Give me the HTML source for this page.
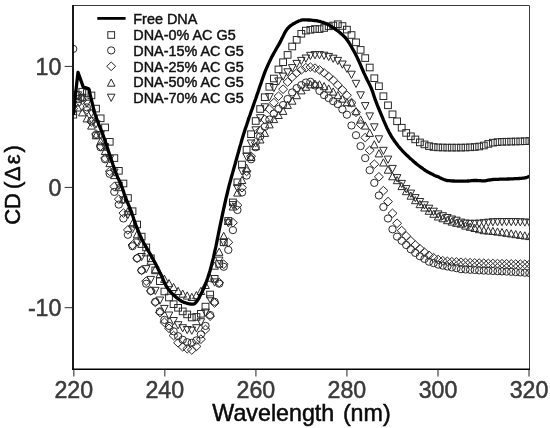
<!DOCTYPE html>
<html><head><meta charset="utf-8"><title>CD spectra</title>
<style>
html,body{margin:0;padding:0;background:#fff;}
body{width:550px;height:428px;overflow:hidden;}
svg{display:block;will-change:transform;}
text{font-family:"Liberation Sans",sans-serif;}
.m{fill:none;stroke:#2a2a2a;stroke-width:1.0;}
.tk{fill:#3a3a3a;font-size:24.8px;stroke:#3a3a3a;stroke-width:0.55px;}
.ax{fill:#0a0a0a;font-size:23.25px;stroke:#0a0a0a;stroke-width:0.5px;}
.lg{fill:#111;font-size:14.4px;stroke:#111;stroke-width:0.45px;}
</style></head><body>
<svg width="550" height="428" viewBox="0 0 550 428">
<rect x="0" y="0" width="550" height="428" fill="#fff"/>
<defs><clipPath id="c"><rect x="73.2" y="5.5" width="456.8" height="363.7"/></clipPath></defs>
<g clip-path="url(#c)">
<g class="m"><rect x="69.8" y="111.4" width="6.8" height="6.6"/><rect x="74.4" y="95.7" width="6.8" height="6.6"/><rect x="78.9" y="88.4" width="6.8" height="6.6"/><rect x="83.5" y="89.7" width="6.8" height="6.6"/><rect x="88" y="92.1" width="6.8" height="6.6"/><rect x="92.6" y="105.3" width="6.8" height="6.6"/><rect x="97.2" y="115" width="6.8" height="6.6"/><rect x="101.7" y="124.1" width="6.8" height="6.6"/><rect x="106.3" y="138.5" width="6.8" height="6.6"/><rect x="110.9" y="154.8" width="6.8" height="6.6"/><rect x="115.4" y="167.5" width="6.8" height="6.6"/><rect x="120" y="180.2" width="6.8" height="6.6"/><rect x="124.5" y="194.7" width="6.8" height="6.6"/><rect x="129.1" y="207.9" width="6.8" height="6.6"/><rect x="133.7" y="221.2" width="6.8" height="6.6"/><rect x="138.2" y="233.3" width="6.8" height="6.6"/><rect x="142.8" y="244.1" width="6.8" height="6.6"/><rect x="147.4" y="255" width="6.8" height="6.6"/><rect x="151.9" y="267.1" width="6.8" height="6.6"/><rect x="156.5" y="277.9" width="6.8" height="6.6"/><rect x="161" y="288.2" width="6.8" height="6.6"/><rect x="165.6" y="294.2" width="6.8" height="6.6"/><rect x="170.2" y="300.9" width="6.8" height="6.6"/><rect x="174.7" y="304.5" width="6.8" height="6.6"/><rect x="179.3" y="308.1" width="6.8" height="6.6"/><rect x="183.8" y="311.1" width="6.8" height="6.6"/><rect x="188.4" y="314.2" width="6.8" height="6.6"/><rect x="193" y="313.6" width="6.8" height="6.6"/><rect x="197.5" y="310.5" width="6.8" height="6.6"/><rect x="202.1" y="303.3" width="6.8" height="6.6"/><rect x="206.7" y="291.2" width="6.8" height="6.6"/><rect x="211.2" y="275.5" width="6.8" height="6.6"/><rect x="215.8" y="260.6" width="6.8" height="6.6"/><rect x="220.3" y="239" width="6.8" height="6.6"/><rect x="224.9" y="217.6" width="6.8" height="6.6"/><rect x="229.5" y="199.1" width="6.8" height="6.6"/><rect x="234" y="179" width="6.8" height="6.6"/><rect x="238.6" y="161.2" width="6.8" height="6.6"/><rect x="243.2" y="146.4" width="6.8" height="6.6"/><rect x="247.7" y="130.9" width="6.8" height="6.6"/><rect x="252.3" y="117.7" width="6.8" height="6.6"/><rect x="256.8" y="105.7" width="6.8" height="6.6"/><rect x="261.4" y="93.9" width="6.8" height="6.6"/><rect x="266" y="83.5" width="6.8" height="6.6"/><rect x="270.5" y="75.2" width="6.8" height="6.6"/><rect x="275.1" y="66.1" width="6.8" height="6.6"/><rect x="279.7" y="58.9" width="6.8" height="6.6"/><rect x="284.2" y="51.6" width="6.8" height="6.6"/><rect x="288.8" y="43.2" width="6.8" height="6.6"/><rect x="293.3" y="36.5" width="6.8" height="6.6"/><rect x="297.9" y="30.5" width="6.8" height="6.6"/><rect x="302.5" y="27.3" width="6.8" height="6.6"/><rect x="307" y="26.5" width="6.8" height="6.6"/><rect x="311.6" y="25.7" width="6.8" height="6.6"/><rect x="316.1" y="25.8" width="6.8" height="6.6"/><rect x="320.7" y="24.7" width="6.8" height="6.6"/><rect x="325.3" y="23" width="6.8" height="6.6"/><rect x="329.8" y="22.2" width="6.8" height="6.6"/><rect x="334.4" y="20.9" width="6.8" height="6.6"/><rect x="339" y="22.7" width="6.8" height="6.6"/><rect x="343.5" y="26.3" width="6.8" height="6.6"/><rect x="348.1" y="31.7" width="6.8" height="6.6"/><rect x="352.6" y="39" width="6.8" height="6.6"/><rect x="357.2" y="46.6" width="6.8" height="6.6"/><rect x="361.8" y="54.8" width="6.8" height="6.6"/><rect x="366.3" y="64.2" width="6.8" height="6.6"/><rect x="370.9" y="74.9" width="6.8" height="6.6"/><rect x="375.5" y="82.9" width="6.8" height="6.6"/><rect x="380" y="92.9" width="6.8" height="6.6"/><rect x="384.6" y="102" width="6.8" height="6.6"/><rect x="389.1" y="111" width="6.8" height="6.6"/><rect x="393.7" y="118" width="6.8" height="6.6"/><rect x="398.3" y="124.4" width="6.8" height="6.6"/><rect x="402.8" y="129.6" width="6.8" height="6.6"/><rect x="407.4" y="133" width="6.8" height="6.6"/><rect x="411.9" y="136.1" width="6.8" height="6.6"/><rect x="416.5" y="139.1" width="6.8" height="6.6"/><rect x="421.1" y="141.1" width="6.8" height="6.6"/><rect x="425.6" y="142.8" width="6.8" height="6.6"/><rect x="430.2" y="143.7" width="6.8" height="6.6"/><rect x="434.8" y="144.1" width="6.8" height="6.6"/><rect x="439.3" y="144.2" width="6.8" height="6.6"/><rect x="443.9" y="144.3" width="6.8" height="6.6"/><rect x="448.4" y="144.3" width="6.8" height="6.6"/><rect x="453" y="144.3" width="6.8" height="6.6"/><rect x="457.6" y="144.3" width="6.8" height="6.6"/><rect x="462.1" y="144.2" width="6.8" height="6.6"/><rect x="466.7" y="144" width="6.8" height="6.6"/><rect x="471.3" y="143.7" width="6.8" height="6.6"/><rect x="475.8" y="143.2" width="6.8" height="6.6"/><rect x="480.4" y="142.2" width="6.8" height="6.6"/><rect x="484.9" y="140.6" width="6.8" height="6.6"/><rect x="489.5" y="139.4" width="6.8" height="6.6"/><rect x="494.1" y="138.8" width="6.8" height="6.6"/><rect x="498.6" y="138.5" width="6.8" height="6.6"/><rect x="503.2" y="138.4" width="6.8" height="6.6"/><rect x="507.8" y="138.3" width="6.8" height="6.6"/><rect x="512.3" y="138.2" width="6.8" height="6.6"/><rect x="516.9" y="138.1" width="6.8" height="6.6"/><rect x="521.4" y="137.9" width="6.8" height="6.6"/><rect x="526" y="137.7" width="6.8" height="6.6"/></g>
<g class="m"><ellipse cx="73.2" cy="48.9" rx="3.7" ry="3.6"/><ellipse cx="77.8" cy="102.6" rx="3.7" ry="3.6"/><ellipse cx="82.3" cy="97.8" rx="3.7" ry="3.6"/><ellipse cx="86.9" cy="107.4" rx="3.7" ry="3.6"/><ellipse cx="91.4" cy="120.7" rx="3.7" ry="3.6"/><ellipse cx="96" cy="135.2" rx="3.7" ry="3.6"/><ellipse cx="100.6" cy="147.3" rx="3.7" ry="3.6"/><ellipse cx="105.1" cy="159.3" rx="3.7" ry="3.6"/><ellipse cx="109.7" cy="173.8" rx="3.7" ry="3.6"/><ellipse cx="114.3" cy="191.9" rx="3.7" ry="3.6"/><ellipse cx="118.8" cy="204.6" rx="3.7" ry="3.6"/><ellipse cx="123.4" cy="218.5" rx="3.7" ry="3.6"/><ellipse cx="127.9" cy="234.8" rx="3.7" ry="3.6"/><ellipse cx="132.5" cy="246.2" rx="3.7" ry="3.6"/><ellipse cx="137.1" cy="258.3" rx="3.7" ry="3.6"/><ellipse cx="141.6" cy="270.4" rx="3.7" ry="3.6"/><ellipse cx="146.2" cy="283.7" rx="3.7" ry="3.6"/><ellipse cx="150.8" cy="290.9" rx="3.7" ry="3.6"/><ellipse cx="155.3" cy="301.8" rx="3.7" ry="3.6"/><ellipse cx="159.9" cy="311.4" rx="3.7" ry="3.6"/><ellipse cx="164.4" cy="319.9" rx="3.7" ry="3.6"/><ellipse cx="169" cy="325.9" rx="3.7" ry="3.6"/><ellipse cx="173.6" cy="331.3" rx="3.7" ry="3.6"/><ellipse cx="178.1" cy="336.2" rx="3.7" ry="3.6"/><ellipse cx="182.7" cy="339.8" rx="3.7" ry="3.6"/><ellipse cx="187.2" cy="342.2" rx="3.7" ry="3.6"/><ellipse cx="191.8" cy="342.8" rx="3.7" ry="3.6"/><ellipse cx="196.4" cy="340.4" rx="3.7" ry="3.6"/><ellipse cx="200.9" cy="334.4" rx="3.7" ry="3.6"/><ellipse cx="205.5" cy="325.9" rx="3.7" ry="3.6"/><ellipse cx="210.1" cy="315" rx="3.7" ry="3.6"/><ellipse cx="214.6" cy="301.8" rx="3.7" ry="3.6"/><ellipse cx="219.2" cy="283.7" rx="3.7" ry="3.6"/><ellipse cx="223.7" cy="266.8" rx="3.7" ry="3.6"/><ellipse cx="228.3" cy="249.9" rx="3.7" ry="3.6"/><ellipse cx="232.9" cy="230.1" rx="3.7" ry="3.6"/><ellipse cx="237.4" cy="210" rx="3.7" ry="3.6"/><ellipse cx="242" cy="192.5" rx="3.7" ry="3.6"/><ellipse cx="246.6" cy="175.6" rx="3.7" ry="3.6"/><ellipse cx="251.1" cy="159.3" rx="3.7" ry="3.6"/><ellipse cx="255.7" cy="147.3" rx="3.7" ry="3.6"/><ellipse cx="260.2" cy="136.4" rx="3.7" ry="3.6"/><ellipse cx="264.8" cy="126.8" rx="3.7" ry="3.6"/><ellipse cx="269.4" cy="119.5" rx="3.7" ry="3.6"/><ellipse cx="273.9" cy="113.6" rx="3.7" ry="3.6"/><ellipse cx="278.5" cy="108.9" rx="3.7" ry="3.6"/><ellipse cx="283.1" cy="105" rx="3.7" ry="3.6"/><ellipse cx="287.6" cy="99" rx="3.7" ry="3.6"/><ellipse cx="292.2" cy="92.4" rx="3.7" ry="3.6"/><ellipse cx="296.7" cy="88.1" rx="3.7" ry="3.6"/><ellipse cx="301.3" cy="85.1" rx="3.7" ry="3.6"/><ellipse cx="305.9" cy="82.5" rx="3.7" ry="3.6"/><ellipse cx="310.4" cy="81.8" rx="3.7" ry="3.6"/><ellipse cx="315" cy="85.5" rx="3.7" ry="3.6"/><ellipse cx="319.5" cy="90.9" rx="3.7" ry="3.6"/><ellipse cx="324.1" cy="95.1" rx="3.7" ry="3.6"/><ellipse cx="328.7" cy="98.1" rx="3.7" ry="3.6"/><ellipse cx="333.2" cy="101.2" rx="3.7" ry="3.6"/><ellipse cx="337.8" cy="104.1" rx="3.7" ry="3.6"/><ellipse cx="342.4" cy="109.4" rx="3.7" ry="3.6"/><ellipse cx="346.9" cy="114.7" rx="3.7" ry="3.6"/><ellipse cx="351.5" cy="125.5" rx="3.7" ry="3.6"/><ellipse cx="356" cy="135.2" rx="3.7" ry="3.6"/><ellipse cx="360.6" cy="146.1" rx="3.7" ry="3.6"/><ellipse cx="365.2" cy="158.1" rx="3.7" ry="3.6"/><ellipse cx="369.7" cy="170.2" rx="3.7" ry="3.6"/><ellipse cx="374.3" cy="182.9" rx="3.7" ry="3.6"/><ellipse cx="378.9" cy="195.5" rx="3.7" ry="3.6"/><ellipse cx="383.4" cy="207" rx="3.7" ry="3.6"/><ellipse cx="388" cy="218.5" rx="3.7" ry="3.6"/><ellipse cx="392.5" cy="229.3" rx="3.7" ry="3.6"/><ellipse cx="397.1" cy="236.6" rx="3.7" ry="3.6"/><ellipse cx="401.7" cy="240.8" rx="3.7" ry="3.6"/><ellipse cx="406.2" cy="245" rx="3.7" ry="3.6"/><ellipse cx="410.8" cy="249.3" rx="3.7" ry="3.6"/><ellipse cx="415.3" cy="252.9" rx="3.7" ry="3.6"/><ellipse cx="419.9" cy="256.3" rx="3.7" ry="3.6"/><ellipse cx="424.5" cy="258.9" rx="3.7" ry="3.6"/><ellipse cx="429" cy="261.7" rx="3.7" ry="3.6"/><ellipse cx="433.6" cy="263.1" rx="3.7" ry="3.6"/><ellipse cx="438.2" cy="264.6" rx="3.7" ry="3.6"/><ellipse cx="442.7" cy="265.6" rx="3.7" ry="3.6"/><ellipse cx="447.3" cy="266.5" rx="3.7" ry="3.6"/><ellipse cx="451.8" cy="267.4" rx="3.7" ry="3.6"/><ellipse cx="456.4" cy="268.2" rx="3.7" ry="3.6"/><ellipse cx="461" cy="269.2" rx="3.7" ry="3.6"/><ellipse cx="465.5" cy="269.5" rx="3.7" ry="3.6"/><ellipse cx="470.1" cy="269.8" rx="3.7" ry="3.6"/><ellipse cx="474.7" cy="270" rx="3.7" ry="3.6"/><ellipse cx="479.2" cy="270.4" rx="3.7" ry="3.6"/><ellipse cx="483.8" cy="270.6" rx="3.7" ry="3.6"/><ellipse cx="488.3" cy="270.8" rx="3.7" ry="3.6"/><ellipse cx="492.9" cy="271" rx="3.7" ry="3.6"/><ellipse cx="497.5" cy="271.2" rx="3.7" ry="3.6"/><ellipse cx="502" cy="271.4" rx="3.7" ry="3.6"/><ellipse cx="506.6" cy="271.6" rx="3.7" ry="3.6"/><ellipse cx="511.2" cy="271.8" rx="3.7" ry="3.6"/><ellipse cx="515.7" cy="272.1" rx="3.7" ry="3.6"/><ellipse cx="520.3" cy="272.4" rx="3.7" ry="3.6"/><ellipse cx="524.8" cy="272.7" rx="3.7" ry="3.6"/><ellipse cx="529.4" cy="273" rx="3.7" ry="3.6"/></g>
<g class="m"><path d="M68.7 108.6L73.2 104.3L77.7 108.6L73.2 112.9Z"/><path d="M73.3 95.4L77.8 91.1L82.3 95.4L77.8 99.7Z"/><path d="M77.8 100.2L82.3 95.9L86.8 100.2L82.3 104.5Z"/><path d="M82.4 109.9L86.9 105.6L91.4 109.9L86.9 114.2Z"/><path d="M86.9 121.9L91.4 117.6L95.9 121.9L91.4 126.2Z"/><path d="M91.5 134L96 129.7L100.5 134L96 138.3Z"/><path d="M96.1 146.1L100.6 141.8L105.1 146.1L100.6 150.4Z"/><path d="M100.6 158.1L105.1 153.8L109.6 158.1L105.1 162.4Z"/><path d="M105.2 171.4L109.7 167.1L114.2 171.4L109.7 175.7Z"/><path d="M109.8 186.5L114.3 182.2L118.8 186.5L114.3 190.8Z"/><path d="M114.3 199.2L118.8 194.9L123.3 199.2L118.8 203.5Z"/><path d="M118.9 213.1L123.4 208.8L127.9 213.1L123.4 217.4Z"/><path d="M123.4 229.9L127.9 225.6L132.4 229.9L127.9 234.2Z"/><path d="M128 245L132.5 240.7L137 245L132.5 249.3Z"/><path d="M132.6 258.3L137.1 254L141.6 258.3L137.1 262.6Z"/><path d="M137.1 270.4L141.6 266.1L146.1 270.4L141.6 274.7Z"/><path d="M141.7 281.2L146.2 276.9L150.7 281.2L146.2 285.5Z"/><path d="M146.3 290.9L150.8 286.6L155.3 290.9L150.8 295.2Z"/><path d="M150.8 302.4L155.3 298.1L159.8 302.4L155.3 306.7Z"/><path d="M155.4 312.6L159.9 308.3L164.4 312.6L159.9 316.9Z"/><path d="M159.9 322.3L164.4 318L168.9 322.3L164.4 326.6Z"/><path d="M164.5 328.3L169 324L173.5 328.3L169 332.6Z"/><path d="M169.1 335.6L173.6 331.3L178.1 335.6L173.6 339.9Z"/><path d="M173.6 342.8L178.1 338.5L182.6 342.8L178.1 347.1Z"/><path d="M178.2 346.8L182.7 342.5L187.2 346.8L182.7 351.1Z"/><path d="M182.8 348.7L187.2 344.4L191.8 348.7L187.2 353Z"/><path d="M187.3 350L191.8 345.7L196.3 350L191.8 354.3Z"/><path d="M191.9 346.4L196.4 342.1L200.9 346.4L196.4 350.7Z"/><path d="M196.4 339.2L200.9 334.9L205.4 339.2L200.9 343.5Z"/><path d="M201 329.5L205.5 325.2L210 329.5L205.5 333.8Z"/><path d="M205.6 316.2L210.1 311.9L214.6 316.2L210.1 320.5Z"/><path d="M210.1 303L214.6 298.7L219.1 303L214.6 307.3Z"/><path d="M214.7 282.5L219.2 278.2L223.7 282.5L219.2 286.8Z"/><path d="M219.2 264.3L223.7 260L228.2 264.3L223.7 268.6Z"/><path d="M223.8 242.3L228.3 238L232.8 242.3L228.3 246.6Z"/><path d="M228.4 222.7L232.9 218.4L237.4 222.7L232.9 227Z"/><path d="M232.9 205.2L237.4 200.9L241.9 205.2L237.4 209.5Z"/><path d="M237.5 187.7L242 183.4L246.5 187.7L242 192Z"/><path d="M242.1 171.4L246.6 167.1L251.1 171.4L246.6 175.7Z"/><path d="M246.6 156.3L251.1 152L255.6 156.3L251.1 160.6Z"/><path d="M251.2 142.4L255.7 138.1L260.2 142.4L255.7 146.7Z"/><path d="M255.7 130.4L260.2 126.1L264.7 130.4L260.2 134.7Z"/><path d="M260.3 119.5L264.8 115.2L269.3 119.5L264.8 123.8Z"/><path d="M264.9 109.2L269.4 104.9L273.9 109.2L269.4 113.5Z"/><path d="M269.4 102.7L273.9 98.4L278.4 102.7L273.9 107Z"/><path d="M274 96.2L278.5 91.9L283 96.2L278.5 100.5Z"/><path d="M278.6 89.2L283.1 84.9L287.6 89.2L283.1 93.5Z"/><path d="M283.1 82L287.6 77.7L292.1 82L287.6 86.3Z"/><path d="M287.7 77.1L292.2 72.8L296.7 77.1L292.2 81.4Z"/><path d="M292.2 72.9L296.7 68.6L301.2 72.9L296.7 77.2Z"/><path d="M296.8 69.9L301.3 65.6L305.8 69.9L301.3 74.2Z"/><path d="M301.4 67.7L305.9 63.4L310.4 67.7L305.9 72Z"/><path d="M305.9 67.1L310.4 62.8L314.9 67.1L310.4 71.4Z"/><path d="M310.5 68.1L315 63.8L319.5 68.1L315 72.4Z"/><path d="M315 69.9L319.5 65.6L324 69.9L319.5 74.2Z"/><path d="M319.6 72.9L324.1 68.6L328.6 72.9L324.1 77.2Z"/><path d="M324.2 76.5L328.7 72.2L333.2 76.5L328.7 80.8Z"/><path d="M328.7 80.2L333.2 75.9L337.7 80.2L333.2 84.5Z"/><path d="M333.3 85L337.8 80.7L342.3 85L337.8 89.3Z"/><path d="M337.9 89.9L342.4 85.6L346.9 89.9L342.4 94.2Z"/><path d="M342.4 95.3L346.9 91L351.4 95.3L346.9 99.6Z"/><path d="M347 102.6L351.5 98.3L356 102.6L351.5 106.9Z"/><path d="M351.5 112.3L356 108L360.5 112.3L356 116.6Z"/><path d="M356.1 124.3L360.6 120L365.1 124.3L360.6 128.6Z"/><path d="M360.7 137.6L365.2 133.3L369.7 137.6L365.2 141.9Z"/><path d="M365.2 150.3L369.7 146L374.2 150.3L369.7 154.6Z"/><path d="M369.8 164.2L374.3 159.9L378.8 164.2L374.3 168.5Z"/><path d="M374.4 176.8L378.9 172.5L383.4 176.8L378.9 181.1Z"/><path d="M378.9 190.7L383.4 186.4L387.9 190.7L383.4 195Z"/><path d="M383.5 201.6L388 197.3L392.5 201.6L388 205.9Z"/><path d="M388 213.3L392.5 209L397 213.3L392.5 217.6Z"/><path d="M392.6 223.3L397.1 219L401.6 223.3L397.1 227.6Z"/><path d="M397.2 230.6L401.7 226.3L406.2 230.6L401.7 234.9Z"/><path d="M401.7 236L406.2 231.7L410.7 236L406.2 240.3Z"/><path d="M406.3 240.8L410.8 236.5L415.3 240.8L410.8 245.1Z"/><path d="M410.8 245L415.3 240.7L419.8 245L415.3 249.3Z"/><path d="M415.4 248.7L419.9 244.4L424.4 248.7L419.9 253Z"/><path d="M420 252.3L424.5 248L429 252.3L424.5 256.6Z"/><path d="M424.5 255.3L429 251L433.5 255.3L429 259.6Z"/><path d="M429.1 257.7L433.6 253.4L438.1 257.7L433.6 262Z"/><path d="M433.7 259.5L438.2 255.2L442.7 259.5L438.2 263.8Z"/><path d="M438.2 260.7L442.7 256.4L447.2 260.7L442.7 265Z"/><path d="M442.8 261.3L447.3 257L451.8 261.3L447.3 265.6Z"/><path d="M447.3 261.7L451.8 257.4L456.3 261.7L451.8 266Z"/><path d="M451.9 261.9L456.4 257.6L460.9 261.9L456.4 266.2Z"/><path d="M456.5 262.2L461 257.9L465.5 262.2L461 266.5Z"/><path d="M461 262.5L465.5 258.2L470 262.5L465.5 266.8Z"/><path d="M465.6 262.7L470.1 258.4L474.6 262.7L470.1 267Z"/><path d="M470.2 262.9L474.7 258.6L479.2 262.9L474.7 267.2Z"/><path d="M474.7 263.1L479.2 258.8L483.7 263.1L479.2 267.4Z"/><path d="M479.3 263.2L483.8 258.9L488.3 263.2L483.8 267.5Z"/><path d="M483.8 263.4L488.3 259.1L492.8 263.4L488.3 267.7Z"/><path d="M488.4 263.5L492.9 259.2L497.4 263.5L492.9 267.8Z"/><path d="M493 263.6L497.5 259.3L502 263.6L497.5 267.9Z"/><path d="M497.5 263.7L502 259.4L506.5 263.7L502 268Z"/><path d="M502.1 263.8L506.6 259.5L511.1 263.8L506.6 268.1Z"/><path d="M506.7 263.9L511.2 259.6L515.7 263.9L511.2 268.2Z"/><path d="M511.2 264L515.7 259.7L520.2 264L515.7 268.3Z"/><path d="M515.8 264.1L520.3 259.8L524.8 264.1L520.3 268.4Z"/><path d="M520.3 264.2L524.8 259.9L529.3 264.2L524.8 268.5Z"/><path d="M524.9 264.3L529.4 260L533.9 264.3L529.4 268.6Z"/></g>
<g class="m"><path d="M69.4 114.7L77 114.7L73.2 107.5Z"/><path d="M74 111L81.6 111L77.8 103.8Z"/><path d="M78.5 115.9L86.1 115.9L82.3 108.7Z"/><path d="M83.1 121.9L90.7 121.9L86.9 114.7Z"/><path d="M87.6 129.1L95.2 129.1L91.4 121.9Z"/><path d="M92.2 138.8L99.8 138.8L96 131.6Z"/><path d="M96.8 144.8L104.4 144.8L100.6 137.6Z"/><path d="M101.3 154.5L108.9 154.5L105.1 147.3Z"/><path d="M105.9 166.6L113.5 166.6L109.7 159.4Z"/><path d="M110.5 178.6L118.1 178.6L114.3 171.4Z"/><path d="M115 190.7L122.6 190.7L118.8 183.5Z"/><path d="M119.6 202.8L127.2 202.8L123.4 195.6Z"/><path d="M124.1 214.8L131.7 214.8L127.9 207.6Z"/><path d="M128.7 226.9L136.3 226.9L132.5 219.7Z"/><path d="M133.3 237.8L140.9 237.8L137.1 230.6Z"/><path d="M137.8 247.4L145.4 247.4L141.6 240.2Z"/><path d="M142.4 255.9L150 255.9L146.2 248.7Z"/><path d="M147 264.3L154.6 264.3L150.8 257.1Z"/><path d="M151.5 272.8L159.1 272.8L155.3 265.6Z"/><path d="M156.1 277.6L163.7 277.6L159.9 270.4Z"/><path d="M160.6 282.4L168.2 282.4L164.4 275.2Z"/><path d="M165.2 286.7L172.8 286.7L169 279.5Z"/><path d="M169.8 290.5L177.4 290.5L173.6 283.3Z"/><path d="M174.3 294.5L181.9 294.5L178.1 287.3Z"/><path d="M178.9 297.2L186.5 297.2L182.7 290Z"/><path d="M183.4 299.1L191.1 299.1L187.2 291.9Z"/><path d="M188 300.5L195.6 300.5L191.8 293.3Z"/><path d="M192.6 298.7L200.2 298.7L196.4 291.5Z"/><path d="M197.1 294.5L204.7 294.5L200.9 287.3Z"/><path d="M201.7 288.5L209.3 288.5L205.5 281.3Z"/><path d="M206.3 281.2L213.9 281.2L210.1 274Z"/><path d="M210.8 269.2L218.4 269.2L214.6 262Z"/><path d="M215.4 255.3L223 255.3L219.2 248.1Z"/><path d="M219.9 239.5L227.5 239.5L223.7 232.3Z"/><path d="M224.5 224.5L232.1 224.5L228.3 217.3Z"/><path d="M229.1 210L236.7 210L232.9 202.8Z"/><path d="M233.6 196.1L241.2 196.1L237.4 188.9Z"/><path d="M238.2 183.5L245.8 183.5L242 176.3Z"/><path d="M242.8 171.4L250.4 171.4L246.6 164.2Z"/><path d="M247.3 160.5L254.9 160.5L251.1 153.3Z"/><path d="M251.9 149.7L259.5 149.7L255.7 142.5Z"/><path d="M256.4 143L264 143L260.2 135.8Z"/><path d="M261 136.4L268.6 136.4L264.8 129.2Z"/><path d="M265.6 127.9L273.2 127.9L269.4 120.7Z"/><path d="M270.1 122.6L277.7 122.6L273.9 115.4Z"/><path d="M274.7 118.5L282.3 118.5L278.5 111.3Z"/><path d="M279.3 114.4L286.9 114.4L283.1 107.2Z"/><path d="M283.8 108.4L291.4 108.4L287.6 101.2Z"/><path d="M288.4 104.2L296 104.2L292.2 97Z"/><path d="M292.9 98.7L300.5 98.7L296.7 91.5Z"/><path d="M297.5 93.9L305.1 93.9L301.3 86.7Z"/><path d="M302.1 90.3L309.7 90.3L305.9 83.1Z"/><path d="M306.6 87.9L314.2 87.9L310.4 80.7Z"/><path d="M311.2 87.3L318.8 87.3L315 80.1Z"/><path d="M315.7 87.9L323.3 87.9L319.5 80.7Z"/><path d="M320.3 89.7L327.9 89.7L324.1 82.5Z"/><path d="M324.9 92.1L332.5 92.1L328.7 84.9Z"/><path d="M329.4 95.1L337 95.1L333.2 87.9Z"/><path d="M334 98.7L341.6 98.7L337.8 91.5Z"/><path d="M338.6 102.2L346.2 102.2L342.4 95Z"/><path d="M343.1 105.7L350.7 105.7L346.9 98.5Z"/><path d="M347.7 106.2L355.3 106.2L351.5 99Z"/><path d="M352.2 114.7L359.8 114.7L356 107.5Z"/><path d="M356.8 123.1L364.4 123.1L360.6 115.9Z"/><path d="M361.4 129.1L369 129.1L365.2 121.9Z"/><path d="M365.9 136.4L373.5 136.4L369.7 129.2Z"/><path d="M370.5 147.9L378.1 147.9L374.3 140.7Z"/><path d="M375.1 156.9L382.7 156.9L378.9 149.7Z"/><path d="M379.6 166L387.2 166L383.4 158.8Z"/><path d="M384.2 173.2L391.8 173.2L388 166Z"/><path d="M388.7 179.8L396.3 179.8L392.5 172.6Z"/><path d="M393.3 183.7L400.9 183.7L397.1 176.5Z"/><path d="M397.9 189.6L405.5 189.6L401.7 182.4Z"/><path d="M402.4 194.7L410 194.7L406.2 187.5Z"/><path d="M407 199.2L414.6 199.2L410.8 192Z"/><path d="M411.5 203.7L419.1 203.7L415.3 196.5Z"/><path d="M416.1 207.7L423.7 207.7L419.9 200.5Z"/><path d="M420.7 211L428.3 211L424.5 203.8Z"/><path d="M425.2 214.3L432.8 214.3L429 207.1Z"/><path d="M429.8 217.3L437.4 217.3L433.6 210.1Z"/><path d="M434.4 220L442 220L438.2 212.8Z"/><path d="M438.9 221.8L446.5 221.8L442.7 214.6Z"/><path d="M443.5 223.7L451.1 223.7L447.3 216.5Z"/><path d="M448 225.1L455.6 225.1L451.8 217.9Z"/><path d="M452.6 226.3L460.2 226.3L456.4 219.1Z"/><path d="M457.2 227.2L464.8 227.2L461 220Z"/><path d="M461.7 229.1L469.3 229.1L465.5 221.9Z"/><path d="M466.3 230.3L473.9 230.3L470.1 223.1Z"/><path d="M470.9 231.5L478.5 231.5L474.7 224.3Z"/><path d="M475.4 232.7L483 232.7L479.2 225.5Z"/><path d="M480 233.7L487.6 233.7L483.8 226.5Z"/><path d="M484.5 234.1L492.1 234.1L488.3 226.9Z"/><path d="M489.1 234.5L496.7 234.5L492.9 227.3Z"/><path d="M493.7 235.1L501.3 235.1L497.5 227.9Z"/><path d="M498.2 235.7L505.8 235.7L502 228.5Z"/><path d="M502.8 236.3L510.4 236.3L506.6 229.1Z"/><path d="M507.4 237L515 237L511.2 229.8Z"/><path d="M511.9 237.7L519.5 237.7L515.7 230.5Z"/><path d="M516.5 238.4L524.1 238.4L520.3 231.2Z"/><path d="M521 239L528.6 239L524.8 231.8Z"/><path d="M525.6 239.6L533.2 239.6L529.4 232.4Z"/></g>
<g class="m"><path d="M69.4 101.4L77 101.4L73.2 108.6Z"/><path d="M74 91.8L81.6 91.8L77.8 99Z"/><path d="M78.5 94.2L86.1 94.2L82.3 101.4Z"/><path d="M83.1 100.2L90.7 100.2L86.9 107.4Z"/><path d="M87.6 109.9L95.2 109.9L91.4 117.1Z"/><path d="M92.2 120.7L99.8 120.7L96 127.9Z"/><path d="M96.8 131.6L104.4 131.6L100.6 138.8Z"/><path d="M101.3 143.7L108.9 143.7L105.1 150.9Z"/><path d="M105.9 155.7L113.5 155.7L109.7 162.9Z"/><path d="M110.5 169L118.1 169L114.3 176.2Z"/><path d="M115 182.3L122.6 182.3L118.8 189.5Z"/><path d="M119.6 196.8L127.2 196.8L123.4 204Z"/><path d="M124.1 211.3L131.7 211.3L127.9 218.5Z"/><path d="M128.7 225.7L136.3 225.7L132.5 232.9Z"/><path d="M133.3 239L140.9 239L137.1 246.2Z"/><path d="M137.8 253.5L145.4 253.5L141.6 260.7Z"/><path d="M142.4 265.6L150 265.6L146.2 272.8Z"/><path d="M147 276.4L154.6 276.4L150.8 283.6Z"/><path d="M151.5 287.3L159.1 287.3L155.3 294.5Z"/><path d="M156.1 297L163.7 297L159.9 304.2Z"/><path d="M160.6 305.4L168.2 305.4L164.4 312.6Z"/><path d="M165.2 312L172.8 312L169 319.2Z"/><path d="M169.8 317.5L177.4 317.5L173.6 324.7Z"/><path d="M174.3 321.7L181.9 321.7L178.1 328.9Z"/><path d="M178.9 324.7L186.5 324.7L182.7 331.9Z"/><path d="M183.4 326.5L191.1 326.5L187.2 333.7Z"/><path d="M188 327.1L195.6 327.1L191.8 334.3Z"/><path d="M192.6 324.7L200.2 324.7L196.4 331.9Z"/><path d="M197.1 318.7L204.7 318.7L200.9 325.9Z"/><path d="M201.7 309L209.3 309L205.5 316.2Z"/><path d="M206.3 295.8L213.9 295.8L210.1 303Z"/><path d="M210.8 278.9L218.4 278.9L214.6 286.1Z"/><path d="M215.4 257.1L223 257.1L219.2 264.3Z"/><path d="M219.9 239L227.5 239L223.7 246.2Z"/><path d="M224.5 219.7L232.1 219.7L228.3 226.9Z"/><path d="M229.1 201.6L236.7 201.6L232.9 208.8Z"/><path d="M233.6 184.7L241.2 184.7L237.4 191.9Z"/><path d="M238.2 167.8L245.8 167.8L242 175Z"/><path d="M242.8 153.3L250.4 153.3L246.6 160.5Z"/><path d="M247.3 140L254.9 140L251.1 147.2Z"/><path d="M251.9 126.8L259.5 126.8L255.7 134Z"/><path d="M256.4 114.7L264 114.7L260.2 121.9Z"/><path d="M261 103.8L268.6 103.8L264.8 111Z"/><path d="M265.6 93.6L273.2 93.6L269.4 100.8Z"/><path d="M270.1 84.5L277.7 84.5L273.9 91.7Z"/><path d="M274.7 77.9L282.3 77.9L278.5 85.1Z"/><path d="M279.3 73.1L286.9 73.1L283.1 80.3Z"/><path d="M283.8 68.8L291.4 68.8L287.6 76Z"/><path d="M288.4 64.6L296 64.6L292.2 71.8Z"/><path d="M292.9 60.4L300.5 60.4L296.7 67.6Z"/><path d="M297.5 57.4L305.1 57.4L301.3 64.6Z"/><path d="M302.1 55L309.7 55L305.9 62.2Z"/><path d="M306.6 52.3L314.2 52.3L310.4 59.5Z"/><path d="M311.2 51.6L318.8 51.6L315 58.8Z"/><path d="M315.7 51.6L323.3 51.6L319.5 58.8Z"/><path d="M320.3 52.2L327.9 52.2L324.1 59.4Z"/><path d="M324.9 53.4L332.5 53.4L328.7 60.6Z"/><path d="M329.4 55.2L337 55.2L333.2 62.4Z"/><path d="M334 57.4L341.6 57.4L337.8 64.6Z"/><path d="M338.6 61L346.2 61L342.4 68.2Z"/><path d="M343.1 65.2L350.7 65.2L346.9 72.4Z"/><path d="M347.7 71.2L355.3 71.2L351.5 78.4Z"/><path d="M352.2 80.3L359.8 80.3L356 87.5Z"/><path d="M356.8 91.8L364.4 91.8L360.6 99Z"/><path d="M361.4 102.6L369 102.6L365.2 109.8Z"/><path d="M365.9 112.9L373.5 112.9L369.7 120.1Z"/><path d="M370.5 123.8L378.1 123.8L374.3 131Z"/><path d="M375.1 135.8L382.7 135.8L378.9 143Z"/><path d="M379.6 147.3L387.2 147.3L383.4 154.5Z"/><path d="M384.2 156.1L391.8 156.1L388 163.3Z"/><path d="M388.7 165.4L396.3 165.4L392.5 172.6Z"/><path d="M393.3 174.6L400.9 174.6L397.1 181.8Z"/><path d="M397.9 180.4L405.5 180.4L401.7 187.6Z"/><path d="M402.4 185.6L410 185.6L406.2 192.8Z"/><path d="M407 190.1L414.6 190.1L410.8 197.3Z"/><path d="M411.5 194.6L419.1 194.6L415.3 201.8Z"/><path d="M416.1 198.5L423.7 198.5L419.9 205.7Z"/><path d="M420.7 201.8L428.3 201.8L424.5 209Z"/><path d="M425.2 205.2L432.8 205.2L429 212.4Z"/><path d="M429.8 208.2L437.4 208.2L433.6 215.4Z"/><path d="M434.4 210.9L442 210.9L438.2 218.1Z"/><path d="M438.9 212.7L446.5 212.7L442.7 219.9Z"/><path d="M443.5 214.5L451.1 214.5L447.3 221.7Z"/><path d="M448 216L455.6 216L451.8 223.2Z"/><path d="M452.6 217.2L460.2 217.2L456.4 224.4Z"/><path d="M457.2 219.1L464.8 219.1L461 226.3Z"/><path d="M461.7 220L469.3 220L465.5 227.2Z"/><path d="M466.3 220.3L473.9 220.3L470.1 227.5Z"/><path d="M470.9 220.3L478.5 220.3L474.7 227.5Z"/><path d="M475.4 220.1L483 220.1L479.2 227.3Z"/><path d="M480 219.7L487.6 219.7L483.8 226.9Z"/><path d="M484.5 219.2L492.1 219.2L488.3 226.4Z"/><path d="M489.1 218.7L496.7 218.7L492.9 225.9Z"/><path d="M493.7 218.6L501.3 218.6L497.5 225.8Z"/><path d="M498.2 218.5L505.8 218.5L502 225.7Z"/><path d="M502.8 218.5L510.4 218.5L506.6 225.7Z"/><path d="M507.4 218.5L515 218.5L511.2 225.7Z"/><path d="M511.9 218.6L519.5 218.6L515.7 225.8Z"/><path d="M516.5 218.7L524.1 218.7L520.3 225.9Z"/><path d="M521 219L528.6 219L524.8 226.2Z"/><path d="M525.6 219.3L533.2 219.3L529.4 226.5Z"/></g>
<path d="M73.2 114.7L78 72.4L83.2 86.9L88.7 88.7L94.6 112.9L96 117L97.2 120.1L98.3 123.1L99.4 126L100.6 128.7L101.7 131.6L102.9 134.6L104 137.8L105.1 141L106.3 144.4L107.4 147.8L108.6 151.4L109.7 154.9L110.8 158.4L112 161.8L113.1 165.1L114.3 168.3L115.4 171.5L116.5 174.6L117.7 177.4L118.8 179.8L120 182.1L121.1 184.7L122.2 187.8L123.4 191.2L124.5 194.7L125.7 198L126.8 200.8L127.9 203.5L129.1 206.2L130.2 208.9L131.4 211.9L132.5 215.1L133.6 218.6L134.8 222L135.9 225.1L137.1 228.1L138.2 230.9L139.3 233.7L140.5 236.2L141.6 238.7L142.8 241L143.9 243.2L145.1 245.3L146.2 247.2L147.3 249.1L148.5 251.1L149.6 253L150.8 255L151.9 257L153 259.1L154.2 261.2L155.3 263.3L156.5 265.5L157.6 267.8L158.7 270.1L159.9 272.4L161 274.7L162.2 277.2L163.3 279.8L164.4 282.4L165.6 284.8L166.7 286.9L167.9 288.6L169 290.1L170.1 291.5L171.3 292.7L172.4 293.9L173.6 295L174.7 296L175.8 296.9L177 297.9L178.1 298.8L179.3 299.7L180.4 300.5L181.5 301.2L182.7 301.8L183.8 302.3L185 302.6L186.1 303L187.2 303.3L188.4 303.6L189.5 303.8L190.7 304L191.8 304.1L193 304.2L194.1 304L195.2 303.2L196.4 301.9L197.5 300.3L198.7 298.3L199.8 296.2L200.9 294L202.1 291.8L203.2 289.6L204.4 287L205.5 284.2L206.6 281.1L207.8 277.8L208.9 274.3L210.1 270.5L211.2 266.3L212.3 261.9L213.5 257.3L214.6 252.2L215.8 247L216.9 241.7L218 236L219.2 230.2L220.3 224.6L221.5 219.2L222.6 213.9L223.7 208.6L224.9 203.4L226 198.4L227.2 193.5L228.3 188.9L229.4 184.4L230.6 180.2L231.7 176L232.9 171.9L234 167.9L235.2 163.8L236.3 159.7L237.4 155.6L238.6 151.5L239.7 147.4L240.9 143.4L242 139.4L243.1 135.7L244.3 132L245.4 128.5L246.6 125.1L247.7 121.7L248.8 118.3L250 115L251.1 111.7L252.3 108.5L253.4 105.2L254.5 102L255.7 98.7L256.8 95.4L258 92.1L259.1 88.8L260.2 85.5L261.4 82.1L262.5 78.7L263.7 75.4L264.8 72.4L265.9 69.6L267.1 66.9L268.2 64.4L269.4 61.9L270.5 59.6L271.6 57.3L272.8 55.1L273.9 53L275.1 51L276.2 49L277.3 47L278.5 45.1L279.6 43.1L280.8 40.9L281.9 38.5L283.1 36.2L284.2 33.9L285.3 31.8L286.5 29.9L287.6 28.5L288.8 27.3L289.9 26.3L291 25.4L292.2 24.6L293.3 23.8L294.5 23.2L295.6 22.6L296.7 22L297.9 21.5L299 20.9L300.2 20.5L301.3 20.1L302.4 19.9L303.6 19.8L304.7 19.8L305.9 19.9L307 19.9L308.1 20L309.3 20L310.4 20.1L311.6 20.2L312.7 20.3L313.8 20.5L315 20.6L316.1 20.7L317.3 20.9L318.4 21.2L319.5 21.4L320.7 21.7L321.8 22.1L323 22.4L324.1 22.8L325.3 23.2L326.4 23.7L327.5 24.2L328.7 24.9L329.8 25.5L331 26.3L332.1 27L333.2 27.8L334.4 28.5L335.5 29.3L336.7 30.1L337.8 30.9L338.9 31.8L340.1 32.7L341.2 33.7L342.4 34.7L343.5 35.8L344.6 36.9L345.8 38.2L346.9 39.7L348.1 41.3L349.2 43L350.3 44.9L351.5 46.8L352.6 48.9L353.8 51L354.9 53.1L356 55.2L357.2 57.6L358.3 60L359.5 62.6L360.6 65.2L361.7 67.8L362.9 70.5L364 73.1L365.2 75.6L366.3 78L367.4 80.3L368.6 82.6L369.7 84.9L370.9 87.4L372 90.2L373.2 93.4L374.3 96.9L375.4 100.2L376.6 103.2L377.7 106.2L378.9 109L380 111.7L381.1 114.4L382.3 117.2L383.4 119.9L384.6 122.6L385.7 125.2L386.8 127.7L388 130.1L389.1 132.3L390.3 134.4L391.4 136.3L392.5 138.1L393.7 139.8L394.8 141.5L396 143L397.1 144.6L398.2 146L399.4 147.4L400.5 148.7L401.7 150L402.8 151.3L403.9 152.4L405.1 153.6L406.2 154.7L407.4 155.8L408.5 156.8L409.6 157.9L410.8 158.9L411.9 159.9L413.1 161L414.2 162L415.3 162.9L416.5 163.9L417.6 164.8L418.8 165.7L419.9 166.5L421.1 167.4L422.2 168.2L423.3 169L424.5 169.8L425.6 170.6L426.8 171.3L427.9 172L429 172.6L430.2 173.2L431.3 173.8L432.5 174.3L433.6 174.9L434.7 175.4L435.9 175.9L437 176.4L438.2 176.8L439.3 177.4L440.4 177.9L441.6 178.5L442.7 179L443.9 179.5L445 179.9L446.1 180.3L447.3 180.5L448.4 180.6L449.6 180.7L450.7 180.8L451.8 180.9L453 181L454.1 181L455.3 181.1L456.4 181.1L457.5 181.1L458.7 181.1L459.8 181.1L461 181.1L462.1 181.1L463.3 181.1L464.4 181.1L465.5 181.1L466.7 181.1L467.8 181L469 181L470.1 180.8L471.2 180.7L472.4 180.6L473.5 180.5L474.7 180.5L475.8 180.5L476.9 180.5L478.1 180.6L479.2 180.6L480.4 180.7L481.5 180.8L482.6 180.8L483.8 180.8L484.9 180.8L486.1 180.6L487.2 180.4L488.3 180.2L489.5 180L490.6 179.8L491.8 179.6L492.9 179.5L494 179.4L495.2 179.4L496.3 179.3L497.5 179.3L498.6 179.3L499.7 179.2L500.9 179.2L502 179.2L503.2 179.1L504.3 179.1L505.4 179.1L506.6 179.1L507.7 179L508.9 179L510 178.9L511.2 178.9L512.3 178.8L513.4 178.8L514.6 178.7L515.7 178.7L516.9 178.6L518 178.6L519.1 178.5L520.3 178.4L521.4 178.3L522.6 178.2L523.7 178.1L524.8 177.9L526 177.7L527.1 177.3L528.3 176.8L529.4 176.2" fill="none" stroke="#000" stroke-width="3.3" stroke-linejoin="round"/>
</g>
<path d="M73.2 5.5H529.5V369.2" fill="none" stroke="#3c3c3c" stroke-width="1"/>
<line x1="73" y1="5" x2="73" y2="369.9" stroke="#000" stroke-width="1.8"/>
<line x1="72.1" y1="369.2" x2="530" y2="369.2" stroke="#000" stroke-width="1.4"/>
<line x1="73.8" y1="369.8" x2="73.8" y2="376.6" stroke="#555" stroke-width="1.3"/><text class="tk" text-anchor="middle" transform="translate(73.8,397.6) scale(0.935,1)">220</text>
<line x1="164.8" y1="369.8" x2="164.8" y2="376.6" stroke="#555" stroke-width="1.3"/><text class="tk" text-anchor="middle" transform="translate(164.8,397.6) scale(0.935,1)">240</text>
<line x1="255.9" y1="369.8" x2="255.9" y2="376.6" stroke="#555" stroke-width="1.3"/><text class="tk" text-anchor="middle" transform="translate(255.9,397.6) scale(0.935,1)">260</text>
<line x1="346.9" y1="369.8" x2="346.9" y2="376.6" stroke="#555" stroke-width="1.3"/><text class="tk" text-anchor="middle" transform="translate(346.9,397.6) scale(0.935,1)">280</text>
<line x1="438" y1="369.8" x2="438" y2="376.6" stroke="#555" stroke-width="1.3"/><text class="tk" text-anchor="middle" transform="translate(438,397.6) scale(0.935,1)">300</text>
<line x1="529" y1="369.8" x2="529" y2="376.6" stroke="#555" stroke-width="1.3"/><text class="tk" text-anchor="middle" transform="translate(529,397.6) scale(0.935,1)">320</text>
<line x1="64.6" y1="66.4" x2="72.5" y2="66.4" stroke="#333" stroke-width="1"/><text class="tk" text-anchor="end" transform="translate(61.4,75.2) scale(0.935,1)">10</text>
<line x1="64.6" y1="187.4" x2="72.5" y2="187.4" stroke="#333" stroke-width="1"/><text class="tk" text-anchor="end" transform="translate(61.4,195.6) scale(0.935,1)">0</text>
<line x1="64.6" y1="307.7" x2="72.5" y2="307.7" stroke="#333" stroke-width="1"/><text class="tk" text-anchor="end" transform="translate(61.4,316.1) scale(0.935,1)">-10</text>
<text class="ax" text-anchor="middle" transform="translate(301.5,420.9) scale(1.0,1)">Wavelength <tspan dx="2.2">(nm)</tspan></text>
<text class="ax" style="font-size:22px" text-anchor="middle" transform="translate(20.3,185) rotate(-90)"><tspan dx="0 0 0 -2 0.5 2 2">CD (Δε)</tspan></text>
<line x1="97.3" y1="18.4" x2="125.6" y2="18.4" stroke="#000" stroke-width="2.8"/>
<text class="lg" transform="translate(133.3,23.8) scale(1.0,1)">Free DNA</text>
<text class="lg" transform="translate(133.3,40.1) scale(1.0,1)">DNA-0% AC G5</text>
<text class="lg" transform="translate(133.3,55.8) scale(1.0,1)">DNA-15% AC G5</text>
<text class="lg" transform="translate(133.3,71.5) scale(1.0,1)">DNA-25% AC G5</text>
<text class="lg" transform="translate(133.3,87.3) scale(1.0,1)">DNA-50% AC G5</text>
<text class="lg" transform="translate(133.3,103) scale(1.0,1)">DNA-70% AC G5</text>
<g class="m"><rect x="107.8" y="31.7" width="6.8" height="6.6"/><ellipse cx="111.2" cy="50.4" rx="3.7" ry="3.6"/><path d="M106.7 66.3L111.2 62L115.7 66.3L111.2 70.6Z"/><path d="M107.4 86.2L115 86.2L111.2 79Z"/><path d="M107.4 94.2L115 94.2L111.2 101.4Z"/></g>
</svg>
</body></html>
